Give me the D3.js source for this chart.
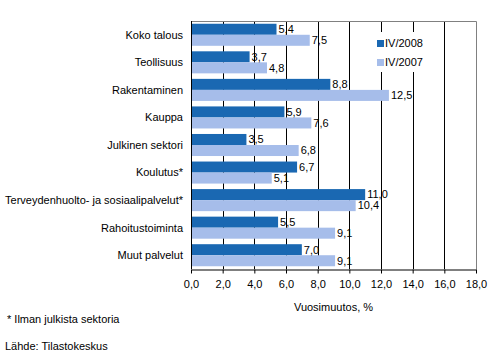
<!DOCTYPE html>
<html>
<head>
<meta charset="utf-8">
<script src="https://cdn.jsdelivr.net/npm/d3@7"></script>
<style>
  body { margin: 0; background: #fff; }
  text { font-family: "Liberation Sans", Arial, sans-serif; font-size: 11px; fill: #000; }
</style>
</head>
<body>
<script>
var categories = ['Koko talous', 'Teollisuus', 'Rakentaminen', 'Kauppa', 'Julkinen sektori',
  'Koulutus*', 'Terveydenhuolto- ja sosiaalipalvelut*', 'Rahoitustoiminta', 'Muut palvelut'];
var seriesNames = ['IV/2008', 'IV/2007'];
var values2008 = [5.4, 3.7, 8.8, 5.9, 3.5, 6.7, 11.0, 5.5, 7.0];
var values2007 = [7.5, 4.8, 12.5, 7.6, 6.8, 5.1, 10.4, 9.1, 9.1];
var xTicks = [0, 2, 4, 6, 8, 10, 12, 14, 16, 18];
var colors = ['#1a68b2', '#a6bdea'];

var width = 497, height = 362;
var plotLeft = 191, plotRight = 476, plotTop = 21, plotBottom = 269;

var svg = d3.select('body').append('svg')
  .attr('width', width)
  .attr('height', height);

var x = d3.scaleLinear().domain([0, 18]).range([plotLeft, plotRight]);
var y = d3.scaleBand().domain(categories).range([plotTop, plotBottom]).paddingInner(0.2).paddingOuter(0.1);
var yInner = d3.scaleBand().domain(seriesNames).range([0, y.bandwidth()]);

var fmt = function(v) { return d3.format('.1f')(v).replace('.', ','); };

// gridlines
svg.append('g').selectAll('line').data(xTicks.slice(1, -1)).enter().append('line')
  .attr('x1', function(d) { return Math.round(x(d)) + 0.5; })
  .attr('x2', function(d) { return Math.round(x(d)) + 0.5; })
  .attr('y1', plotTop).attr('y2', plotBottom)
  .attr('stroke', '#000');

// top and right border
svg.append('path')
  .attr('d', 'M' + plotLeft + ',' + (plotTop + 0.5) + 'H' + (plotRight + 0.5) + 'V' + plotBottom)
  .attr('fill', 'none').attr('stroke', '#808080');

var rows = categories.map(function(c, i) {
  return { cat: c, vals: [values2008[i], values2007[i]] };
});

var group = svg.append('g').selectAll('g').data(rows).enter().append('g')
  .attr('transform', function(d) { return 'translate(0,' + y(d.cat) + ')'; });

group.selectAll('rect').data(function(d) { return d.vals; }).enter().append('rect')
  .attr('x', x(0))
  .attr('y', function(d, i) { return yInner(seriesNames[i]); })
  .attr('width', function(d) { return x(d) - x(0); })
  .attr('height', yInner.bandwidth())
  .attr('fill', function(d, i) { return colors[i]; });

group.selectAll('text.val').data(function(d) { return d.vals; }).enter().append('text')
  .attr('class', 'val')
  .attr('x', function(d) { return x(d) + 2; })
  .attr('y', function(d, i) { return yInner(seriesNames[i]) + yInner.bandwidth() / 2; })
  .attr('dy', '0.35em')
  .text(fmt);

// category labels
svg.append('g').selectAll('text').data(categories).enter().append('text')
  .attr('x', 183)
  .attr('y', function(d) { return y(d) + y.bandwidth() / 2; })
  .attr('dy', '0.35em')
  .attr('text-anchor', 'end')
  .text(function(d) { return d; });

// left axis line
svg.append('line')
  .attr('x1', plotLeft + 0.5).attr('x2', plotLeft + 0.5).attr('y1', plotTop).attr('y2', plotBottom)
  .attr('stroke', '#000');

// bottom axis
var xAxis = svg.append('g')
  .attr('transform', 'translate(0,' + (plotBottom + 0.5) + ')')
  .call(d3.axisBottom(x).tickValues(xTicks).tickFormat(fmt).tickSize(4).tickSizeOuter(0));
xAxis.select('.domain').attr('stroke', '#000');
xAxis.selectAll('line').attr('stroke', '#000');
xAxis.selectAll('text').attr('font-family', null).attr('font-size', null).attr('y', 11);

svg.append('text')
  .attr('x', (plotLeft + plotRight) / 2).attr('y', 307).attr('dy', '0.35em')
  .attr('text-anchor', 'middle').text('Vuosimuutos, %');

// legend
var legend = svg.append('g');
legend.append('rect').attr('x', 373).attr('y', 32).attr('width', 66).attr('height', 40).attr('fill', '#fff');
seriesNames.forEach(function(s, i) {
  legend.append('rect').attr('x', 377).attr('y', 40 + i * 19).attr('width', 7).attr('height', 7).attr('fill', colors[i]);
  legend.append('text').attr('x', 385).attr('y', 43.5 + i * 19).attr('dy', '0.35em').text(s);
});

svg.append('text').attr('x', 7).attr('y', 319).attr('dy', '0.35em').text('* Ilman julkista sektoria');
svg.append('text').attr('x', 5).attr('y', 346).attr('dy', '0.35em').text('Lähde: Tilastokeskus');
</script>
</body>
</html>
